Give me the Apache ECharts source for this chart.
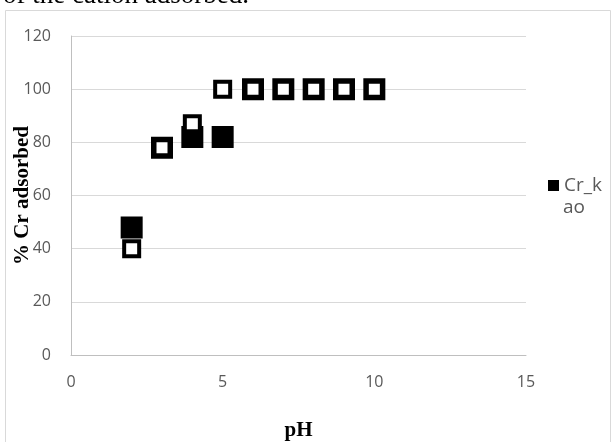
<!DOCTYPE html>
<html>
<head>
<meta charset="utf-8">
<script src="https://cdn.jsdelivr.net/npm/echarts@6/dist/echarts.min.js"></script>
<style>html,body{margin:0;padding:0;background:#fff}#c{width:613px;height:442px}</style>
</head>
<body>
<div id="c"></div>
<script>
const xTicks = [0, 5, 10, 15];
const yTicks = [0, 20, 40, 60, 80, 100, 120];
const pHFilled = [2, 3, 4, 5, 6, 7, 8, 9, 10];
const crKao = [48, 78, 82, 82, 100, 100, 100, 100, 100];
const pHOpen = [2, 3, 4, 5, 6, 7, 8, 9, 10];
const crOpen = [40, 78, 87, 100, 100, 100, 100, 100, 100];
const seriesName = 'Cr_kao';

const chart = echarts.init(document.getElementById('c'), null, {renderer: 'canvas'});
const lab = {color: '#595959', fontFamily: 'Open Sans', fontSize: 16};
const legLab = {color: '#595959', fontFamily: 'Open Sans', fontSize: 19};
chart.setOption({
  animation: false,
  backgroundColor: '#fff',
  grid: {left: 71, right: 87, top: 36, bottom: 87, containLabel: false, outerBoundsMode: 'none'},
  xAxis: {
    type: 'value', min: xTicks[0], max: xTicks[xTicks.length - 1], interval: 5,
    axisLine: {lineStyle: {color: '#bfbfbf', width: 1}},
    axisTick: {show: false}, splitLine: {show: false},
    axisLabel: Object.assign({margin: 19}, lab),
    name: 'pH', nameLocation: 'middle', nameGap: 65, nameMoveOverlap: false,
    nameTextStyle: {fontFamily: 'Liberation Serif', fontWeight: 'bold', fontSize: 21, color: '#000', verticalAlign: 'top'}
  },
  yAxis: {
    type: 'value', min: yTicks[0], max: yTicks[yTicks.length - 1], interval: 20,
    axisLine: {show: true, lineStyle: {color: '#bfbfbf', width: 1}},
    axisTick: {show: false},
    splitLine: {lineStyle: {color: '#d9d9d9', width: 1}},
    axisLabel: Object.assign({margin: 20}, lab),
    name: '% Cr adsorbed', nameLocation: 'middle', nameGap: 48, nameMoveOverlap: false,
    nameTextStyle: {fontFamily: 'Liberation Serif', fontWeight: 'bold', fontSize: 21, color: '#000', verticalAlign: 'middle'}
  },
  legend: {
    data: [{name: seriesName, itemStyle: {color: '#000', borderWidth: 0, opacity: 1}}],
    orient: 'vertical', left: 543, top: 171,
    itemWidth: 11, itemHeight: 11, itemGap: 4,
    formatter: function () { return 'Cr_k'; },
    textStyle: legLab
  },
  graphic: [
    {type: 'rect', shape: {x: 5.5, y: 10.5, width: 605, height: 450}, style: {fill: 'none', stroke: '#d9d9d9', lineWidth: 1}, silent: true},
    {type: 'text', x: 563, y: 198, style: {text: 'ao', fill: '#595959', font: '19px "Open Sans"'}},
    {type: 'text', x: 3, y: 9, style: {text: 'of the cation adsorbed.', fill: '#000', font: '27px "Liberation Serif"', textVerticalAlign: 'bottom'}}
  ],
  series: [
    {
      name: seriesName, type: 'scatter', symbol: 'rect', symbolSize: 20,
      itemStyle: {color: '#000', borderColor: '#000', borderWidth: 2, opacity: 1},
      data: pHFilled.map((x, i) => [x, crKao[i]]), z: 2
    },
    {
      name: 'open', type: 'scatter', symbol: 'rect', symbolSize: 15,
      itemStyle: {color: '#fff', borderColor: '#000', borderWidth: 4, opacity: 1},
      data: pHOpen.map((x, i) => [x, crOpen[i]]), z: 3
    }
  ]
});
</script>
</body>
</html>
